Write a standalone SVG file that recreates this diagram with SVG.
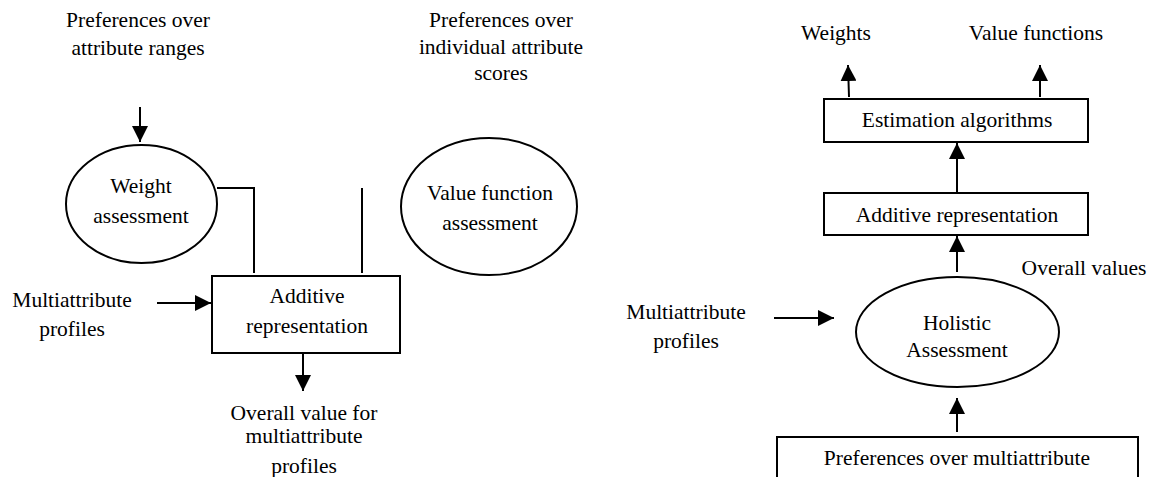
<svg xmlns="http://www.w3.org/2000/svg" width="1152" height="477" viewBox="0 0 1152 477">
  <style>
    text { font-family: "Liberation Serif", "Times New Roman", serif; font-size: 21.5px; fill: #000; text-anchor: middle; }
    .shape { fill: #fff; stroke: #000; stroke-width: 2; }
    .wire { fill: none; stroke: #000; stroke-width: 2; }
  </style>
  <defs>
    <marker id="head" viewBox="0 0 16 16" refX="16" refY="8" markerWidth="16" markerHeight="16" markerUnits="userSpaceOnUse" orient="auto">
      <path d="M0,0 L16,8 L0,16 Z" fill="#000"/>
    </marker>
  </defs>

  <rect width="1152" height="477" fill="#fff"/>

  <!-- Left: decomposed assessment -->
  <g id="label-ranges">
    <text x="138" y="27">Preferences over</text>
    <text x="138" y="55">attribute ranges</text>
  </g>
  <g id="label-scores">
    <text x="501" y="27">Preferences over</text>
    <text x="501" y="54">individual attribute</text>
    <text x="501" y="80">scores</text>
  </g>
  <g id="weight-assessment">
    <ellipse class="shape" cx="141.5" cy="204" rx="75.5" ry="59"/>
    <text x="141" y="193">Weight</text>
    <text x="141" y="223">assessment</text>
  </g>
  <g id="value-function-assessment">
    <ellipse class="shape" cx="489" cy="206.5" rx="88" ry="68.5"/>
    <text x="490" y="200">Value function</text>
    <text x="490" y="230">assessment</text>
  </g>
  <g id="label-profiles-left">
    <text x="72" y="307">Multiattribute</text>
    <text x="72" y="336">profiles</text>
  </g>
  <g id="additive-left">
    <rect class="shape" x="212" y="276" width="188" height="77"/>
    <text x="307" y="303">Additive</text>
    <text x="307" y="333">representation</text>
  </g>
  <g id="label-overall-value">
    <text x="304" y="420">Overall value for</text>
    <text x="304" y="443">multiattribute</text>
    <text x="304" y="473">profiles</text>
  </g>

  <!-- Right: holistic assessment -->
  <g id="label-weights">
    <text x="836" y="40">Weights</text>
  </g>
  <g id="label-value-functions">
    <text x="1036" y="40">Value functions</text>
  </g>
  <g id="estimation">
    <rect class="shape" x="824" y="99" width="264" height="43"/>
    <text x="957" y="127">Estimation algorithms</text>
  </g>
  <g id="additive-right">
    <rect class="shape" x="824" y="193" width="264" height="42"/>
    <text x="957" y="222">Additive representation</text>
  </g>
  <g id="label-overall-values">
    <text x="1084" y="275">Overall values</text>
  </g>
  <g id="label-profiles-right">
    <text x="686" y="319">Multiattribute</text>
    <text x="686" y="348">profiles</text>
  </g>
  <g id="holistic">
    <ellipse class="shape" cx="957.5" cy="332" rx="101.5" ry="55"/>
    <text x="957" y="330">Holistic</text>
    <text x="957" y="357">Assessment</text>
  </g>
  <g id="preferences-multiattribute">
    <rect class="shape" x="777" y="437" width="361" height="60"/>
    <text x="957" y="465">Preferences over multiattribute</text>
  </g>

  <g id="connectors">
    <!-- left -->
    <line class="wire" x1="140" y1="107" x2="140" y2="142" marker-end="url(#head)"/>
    <polyline class="wire" points="217,188 254,188 254,273"/>
    <line class="wire" x1="362" y1="188" x2="362" y2="273"/>
    <line class="wire" x1="157" y1="303" x2="211" y2="303" marker-end="url(#head)"/>
    <line class="wire" x1="303" y1="353" x2="303" y2="391" marker-end="url(#head)"/>
    <!-- right -->
    <line class="wire" x1="849" y1="97" x2="848" y2="65" marker-end="url(#head)"/>
    <line class="wire" x1="1040" y1="97" x2="1040" y2="65" marker-end="url(#head)"/>
    <line class="wire" x1="957" y1="193" x2="957" y2="143" marker-end="url(#head)"/>
    <line class="wire" x1="957" y1="272" x2="957" y2="236" marker-end="url(#head)"/>
    <line class="wire" x1="774" y1="318" x2="834" y2="318" marker-end="url(#head)"/>
    <line class="wire" x1="957" y1="432" x2="957" y2="398" marker-end="url(#head)"/>
  </g>
</svg>
